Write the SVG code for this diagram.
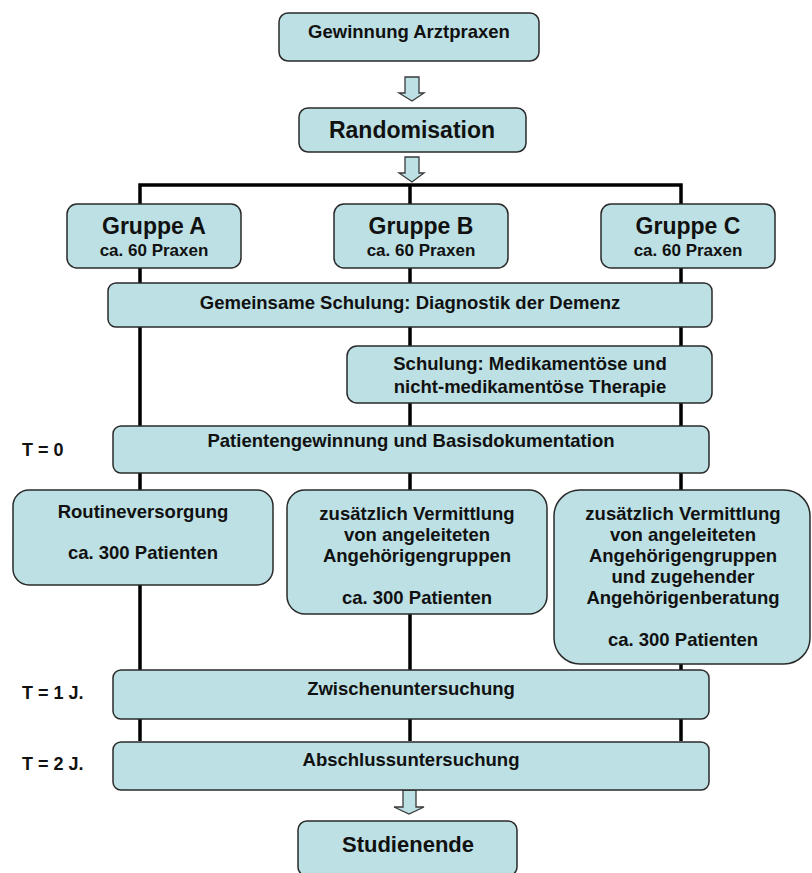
<svg xmlns="http://www.w3.org/2000/svg" width="812" height="873" viewBox="0 0 812 873">
<style>
.box{fill:#bce0e3;stroke:#2a2a2a;stroke-width:1.5}
.arr{fill:#bce0e3;stroke:#3a3a3a;stroke-width:1.3}
.t{font-family:"Liberation Sans",Arial,sans-serif;font-weight:bold;fill:#111;text-anchor:middle;font-size:18.5px}
.big{font-size:23px}
.sub{font-size:17px}
.lbl{font-family:"Liberation Sans",Arial,sans-serif;font-weight:bold;fill:#111;font-size:18px}
.ln{stroke:#000;stroke-width:3.5;fill:none}
</style>
<rect width="812" height="873" fill="#fff"/>
<g id="connectors">
<polyline class="ln" points="140,741 140,185 681,185 681,741"/>
<line class="ln" x1="410" y1="185" x2="410" y2="741"/>
<path class="arr" d="M405,77 H419 V93 H424 L412,101 L399,93 H405 Z"/>
<path class="arr" d="M405,157 H419 V173 H424 L412,182 L399,173 H405 Z"/>
<path class="arr" d="M403,790 H416 V807 H424 L409,814 L394,807 H403 Z"/>
</g>
<g id="gewinnung"><rect class="box" x="279" y="13" width="260" height="48" rx="9"/><text class="t" x="409" y="38">Gewinnung Arztpraxen</text></g>
<g id="randomisation"><rect class="box" x="299" y="108" width="227" height="44" rx="9"/><text class="t big" x="412" y="138">Randomisation</text></g>
<g id="gruppeA"><rect class="box" x="67" y="204" width="174" height="64" rx="10"/><text class="t big" x="154" y="234">Gruppe A</text><text class="t sub" x="154" y="256">ca. 60 Praxen</text></g>
<g id="gruppeB"><rect class="box" x="334" y="204" width="174" height="64" rx="10"/><text class="t big" x="421" y="234">Gruppe B</text><text class="t sub" x="421" y="256">ca. 60 Praxen</text></g>
<g id="gruppeC"><rect class="box" x="601" y="204" width="174" height="64" rx="10"/><text class="t big" x="688" y="234">Gruppe C</text><text class="t sub" x="688" y="256">ca. 60 Praxen</text></g>
<g id="gemeinsam"><rect class="box" x="108" y="283" width="604" height="44" rx="8"/><text class="t" x="410" y="309">Gemeinsame Schulung: Diagnostik der Demenz</text></g>
<g id="schulung"><rect class="box" x="347" y="346" width="365" height="57" rx="10"/><text class="t" x="530" y="370">Schulung: Medikamentöse und</text><text class="t" x="530" y="393">nicht-medikamentöse Therapie</text></g>
<g id="t0"><text class="lbl" x="22" y="456">T = 0</text></g>
<g id="patienten"><rect class="box" x="113" y="426" width="596" height="47" rx="8"/><text class="t" x="411" y="447">Patientengewinnung und Basisdokumentation</text></g>
<g id="routine"><rect class="box" x="13" y="490" width="260" height="95" rx="16"/><text class="t" x="143" y="518">Routineversorgung</text><text class="t" x="143" y="559">ca. 300 Patienten</text></g>
<g id="therapieB"><rect class="box" x="287" y="490" width="260" height="124" rx="18"/><text class="t" x="417" y="520">zusätzlich Vermittlung</text><text class="t" x="417" y="541">von angeleiteten</text><text class="t" x="417" y="562">Angehörigengruppen</text><text class="t" x="417" y="604">ca. 300 Patienten</text></g>
<g id="therapieC"><rect class="box" x="554" y="490" width="256" height="174" rx="26"/><text class="t" x="683" y="520">zusätzlich Vermittlung</text><text class="t" x="683" y="541">von angeleiteten</text><text class="t" x="683" y="562">Angehörigengruppen</text><text class="t" x="683" y="583">und zugehender</text><text class="t" x="683" y="604">Angehörigenberatung</text><text class="t" x="683" y="646">ca. 300 Patienten</text></g>
<g id="t1"><text class="lbl" x="22" y="699">T = 1 J.</text></g>
<g id="zwischen"><rect class="box" x="113" y="670" width="596" height="49" rx="8"/><text class="t" x="411" y="695">Zwischenuntersuchung</text></g>
<g id="t2"><text class="lbl" x="22" y="770">T = 2 J.</text></g>
<g id="abschluss"><rect class="box" x="113" y="742" width="596" height="48" rx="8"/><text class="t" x="411" y="766">Abschlussuntersuchung</text></g>
<g id="studienende"><rect class="box" x="298" y="821" width="219" height="55" rx="9"/><text class="t" style="font-size:22px" x="408" y="852">Studienende</text></g>
</svg>
